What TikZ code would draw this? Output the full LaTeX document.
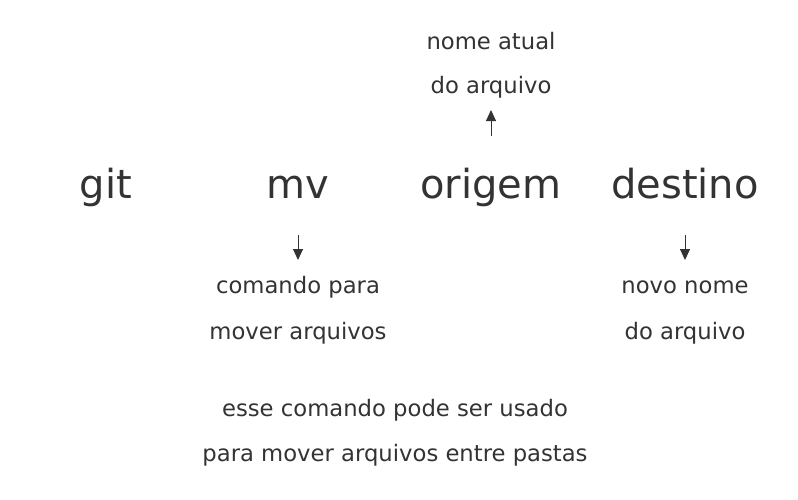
\documentclass[tikz,border=0pt]{standalone}
\usepackage{fontspec}
\setmainfont{DejaVu Sans}
\usetikzlibrary{arrows.meta}
\definecolor{ink}{HTML}{333333}
\begin{document}
\begin{tikzpicture}[x=1pt,y=-1pt,
  big/.style={text=ink,font=\fontsize{40}{48}\selectfont,inner sep=0pt,anchor=base},
  small/.style={text=ink,font=\fontsize{22.7}{27}\selectfont,inner sep=0pt,anchor=base},
  arr/.style={draw=ink,line width=1pt,-{Triangle[width=10pt,length=11pt]}}]
\useasboundingbox (0,0) rectangle (798,499);
\node[big] (git) at (106,198) {git};
\node[big] (mv) at (298,198) {mv};
\node[big] (origem) at (491,198) {origem};
\node[big] (destino) at (685,198) {destino};
\node[small] (oa1) at (491,49) {nome atual};
\node[small] (oa2) at (491,93) {do arquivo};
\node[small] (mv1) at (298,293) {comando para};
\node[small] (mv2) at (298,339) {mover arquivos};
\node[small] (de1) at (685,293) {novo nome};
\node[small] (de2) at (685,339) {do arquivo};
\node[small] (n1) at (395,416) {esse comando pode ser usado};
\node[small] (n2) at (395,461) {para mover arquivos entre pastas};
\coordinate (oS) at (491,136); \coordinate (oE) at (491,110);
\coordinate (mS) at (298,235); \coordinate (mE) at (298,260);
\coordinate (dS) at (685,235); \coordinate (dE) at (685,260);
\draw[arr] (oS) -- (oE);
\draw[arr] (mS) -- (mE);
\draw[arr] (dS) -- (dE);
\end{tikzpicture}
\end{document}
